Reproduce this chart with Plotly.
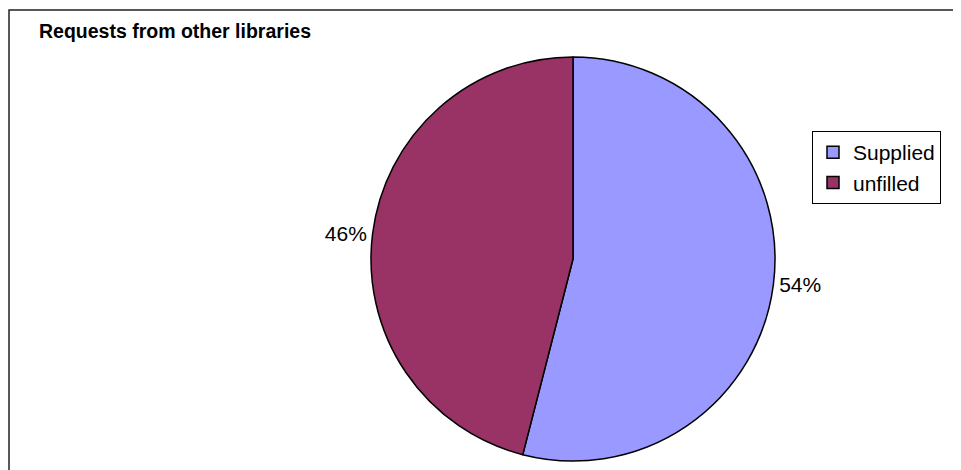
import plotly.graph_objects as go

labels = ["Supplied", "unfilled"]
values = [54, 46]
colors = ["#9999FF", "#993366"]
title_text = "Requests from other libraries"

W, H = 961, 470
# the page body adds an 8px offset; positions below are compensated
OFF = 8
cx, cy, r = 573 - OFF, 259 - OFF, 202

fig = go.Figure()
fig.add_trace(go.Pie(
    labels=labels,
    values=values,
    sort=False,
    direction="clockwise",
    rotation=0,
    marker=dict(colors=colors, line=dict(color="black", width=1.5)),
    textinfo="percent",
    textposition="outside",
    textfont=dict(family="Liberation Sans, Arial", size=21, color="black"),
    domain=dict(x=[(cx - r) / W, (cx + r) / W], y=[1 - (cy + r) / H, 1 - (cy - r) / H]),
    hoverinfo="label+percent",
))

fig.update_layout(
    width=W, height=H,
    margin=dict(l=0, r=0, t=0, b=0),
    paper_bgcolor="white",
    plot_bgcolor="white",
    showlegend=True,
    legend=dict(
        x=(812 - OFF) / W, y=1 - (131 - OFF) / H, xanchor="left", yanchor="top",
        bordercolor="black", borderwidth=1, bgcolor="white",
        font=dict(family="Liberation Sans, Arial", size=21, color="black"),
        traceorder="normal",
    ),
    annotations=[dict(
        text="<b>" + title_text + "</b>",
        xref="paper", yref="paper", x=(37 - OFF) / W, y=1 - (31 - OFF) / H,
        xanchor="left", yanchor="middle", showarrow=False,
        font=dict(family="Liberation Sans, Arial", size=19.5, color="black"),
    )],
    shapes=[dict(
        type="rect", xref="paper", yref="paper",
        x0=(9 - OFF) / W, x1=1.05, y0=-0.05, y1=1 - (10 - OFF) / H,
        line=dict(color="#222222", width=1.5),
    )],
)

fig.write_html("out.html")
